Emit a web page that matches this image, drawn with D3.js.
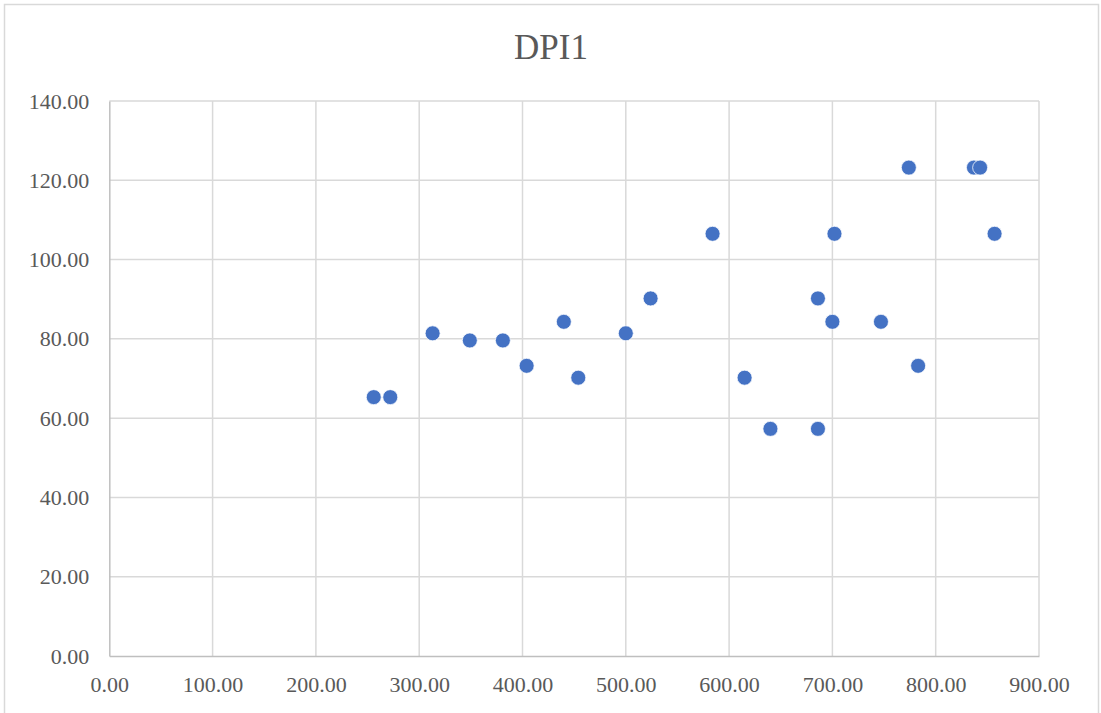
<!DOCTYPE html>
<html>
<head>
<meta charset="utf-8">
<script src="https://cdn.jsdelivr.net/npm/d3@7"></script>
<style>
  html, body { margin: 0; padding: 0; background: #fff; }
  svg { display: block; }
  text { font-family: "Liberation Serif", "Times New Roman", serif; fill: #595959; }
</style>
</head>
<body>
<svg id="chart" width="1101" height="713"></svg>
<script>
// DPI1 scatter: x value and DPI1 value for each observation
const xValues = [256, 272, 313, 349, 381, 404, 440, 454, 500, 524, 584, 615, 640,
                 686, 686, 700, 702, 747, 774, 783, 837, 843, 857];
const dpiValues = [65.3, 65.3, 81.4, 79.6, 79.6, 73.2, 84.3, 70.2, 81.4, 90.2, 106.5, 70.2, 57.3,
                   90.2, 57.3, 84.3, 106.5, 84.3, 123.2, 73.2, 123.2, 123.2, 106.5];
const xTicks = [0, 100, 200, 300, 400, 500, 600, 700, 800, 900];
const yTicks = [0, 20, 40, 60, 80, 100, 120, 140];
const chartTitle = "DPI1";

const svg = d3.select("#chart");
const W = 1101, H = 713;
const plot = { left: 109.3, right: 1039, top: 101, bottom: 656 };

// outer chart frame
svg.append("rect")
  .attr("x", 4.5).attr("y", 4.5)
  .attr("width", W - 7).attr("height", H + 10)
  .attr("fill", "#fff").attr("stroke", "#d9d9d9").attr("stroke-width", 1.5);

const x = d3.scaleLinear().domain([0, 900]).range([plot.left, plot.right]);
const y = d3.scaleLinear().domain([0, 140]).range([plot.bottom, plot.top]);

// gridlines
const grid = svg.append("g");
grid.selectAll("line.v").data(xTicks.slice(1)).join("line")
  .attr("x1", d => x(d)).attr("x2", d => x(d))
  .attr("y1", plot.top).attr("y2", plot.bottom)
  .attr("stroke", "#d9d9d9").attr("stroke-width", 1.5);
grid.selectAll("line.h").data(yTicks.slice(1)).join("line")
  .attr("x1", plot.left).attr("x2", plot.right)
  .attr("y1", d => y(d)).attr("y2", d => y(d))
  .attr("stroke", "#d9d9d9").attr("stroke-width", 1.5);

const fmt = d3.format(".2f");

// y axis
const yAxis = svg.append("g")
  .attr("transform", `translate(${plot.left},0)`)
  .call(d3.axisLeft(y).tickValues(yTicks).tickFormat(fmt).tickSize(0).tickPadding(20));
yAxis.select(".domain").attr("stroke", "#bfbfbf").attr("stroke-width", 1.5);
yAxis.selectAll("text").attr("font-size", 22).attr("fill", "#595959")
  .style("font-family", '"Liberation Serif", "Times New Roman", serif');

// x axis
const xAxis = svg.append("g")
  .attr("transform", `translate(0,${plot.bottom})`)
  .call(d3.axisBottom(x).tickValues(xTicks).tickFormat(fmt).tickSize(0).tickPadding(20));
xAxis.select(".domain").attr("stroke", "#bfbfbf").attr("stroke-width", 1.5);
xAxis.selectAll("text").attr("font-size", 22).attr("fill", "#595959")
  .style("font-family", '"Liberation Serif", "Times New Roman", serif');

// title
svg.append("text")
  .attr("x", 551).attr("y", 59)
  .attr("text-anchor", "middle")
  .attr("font-size", 35)
  .text(chartTitle);

// markers
const points = xValues.map((v, i) => ({ x: v, y: dpiValues[i] }));
svg.append("g").selectAll("circle").data(points).join("circle")
  .attr("cx", d => x(d.x)).attr("cy", d => y(d.y))
  .attr("r", 7.5)
  .attr("fill", "#4472c4")
  .attr("stroke", "#ffffff").attr("stroke-width", 0.75);
</script>
</body>
</html>
